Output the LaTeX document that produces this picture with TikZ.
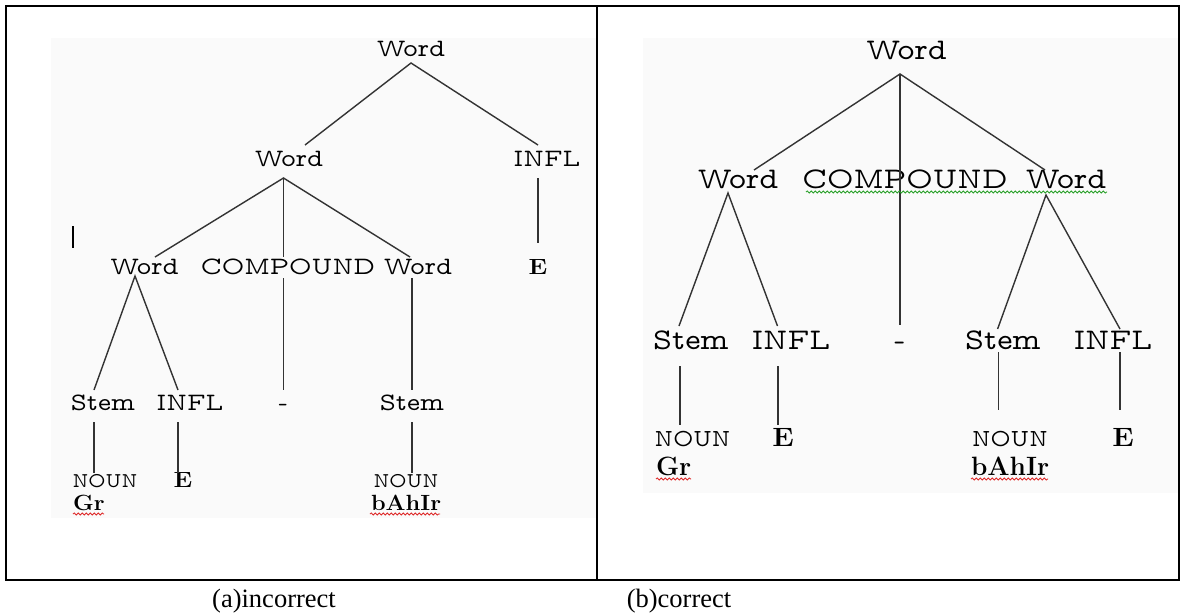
\documentclass[tikz,border=0pt]{standalone}
\usepackage{fontspec}
\setmainfont{Liberation Serif}
\usetikzlibrary{decorations.pathmorphing}

\definecolor{panelbg}{RGB}{250,250,250}
\definecolor{spellred}{RGB}{222,40,40}
\definecolor{grammargreen}{RGB}{40,160,40}

\tikzset{
  treelbl/.style={anchor=base, inner sep=0pt, outer sep=0pt, text=black, transform shape},
  tl/.style={treelbl, xscale=1.1, font=\fontfamily{lmvtt}\fontsize{25}{26}\selectfont},
  tr/.style={treelbl, xscale=1.08, font=\fontfamily{lmvtt}\fontsize{30}{31}\selectfont},
  lsm/.style={treelbl, font=\fontfamily{lmvtt}\fontsize{21}{22}\selectfont},
  rsm/.style={treelbl, font=\fontfamily{lmvtt}\fontsize{24.5}{26}\selectfont},
  lbold/.style={treelbl, xscale=1.15, font=\fontfamily{lmr}\fontseries{bx}\fontsize{22}{23}\selectfont},
  rbold/.style={treelbl, xscale=1.1, font=\fontfamily{lmr}\fontseries{bx}\fontsize{26.5}{28}\selectfont},
  lword/.style={lbold, xscale=0.93, anchor=base west},
  rword/.style={rbold, xscale=0.9, anchor=base west},
  branch/.style={draw=black!80, line width=1.4pt},
  frame/.style={draw=black, line width=1.5pt},
  captxt/.style={anchor=base, inner sep=0pt, font=\fontsize{26.5}{28}\selectfont},
  squiggle/.style={line width=0.8pt, decorate,
    decoration={snake, amplitude=1.1pt, segment length=4pt}},
}

\begin{document}
\begin{tikzpicture}[x=1pt,y=-1pt]
\useasboundingbox (0,0) rectangle (1184,613);
\fill[white] (0,0) rectangle (1184,613);

% light backgrounds of the two tree panels
\fill[panelbg] (51,38) rectangle (596,518);
\fill[panelbg] (643,38) rectangle (1178,493);

% table rules
\draw[frame] (6,6) rectangle (1179,580);
\draw[frame] (597,6) -- (597,580);

% ---------------- (a) incorrect ----------------
\node[tl] (a-root)  at (411,56)    {Word};
\node[tl] (a-w)     at (289,166)   {Word};
\node[tl] (a-infl)  at (547,166)   {INFL};
\node[tl] (a-w1)    at (144.5,274) {Word};
\node[tl] (a-cmp)   at (288,274)   {COMPOUND};
\node[tl] (a-w2)    at (418,274)   {Word};
\node[lbold] (a-e)  at (538,274)   {E};
\node[tl] (a-stem1) at (103,410)   {Stem};
\node[tl] (a-infl1) at (190,410)   {INFL};
\node[tl] (a-dash)  at (283.5,410) {-};
\node[tl] (a-stem2) at (412,410)   {Stem};
\node[lsm] (a-noun1) at (105,487.5) {NOUN};
\node[lbold] (a-e1)  at (183,487)   {E};
\node[lsm] (a-noun2) at (406,487.5) {NOUN};
\node[lword] (a-gr)    at (73,510)  {Gr};
\node[lword] (a-bahir) at (371,510) {bAhIr};

\coordinate (a-root-j)  at (411,63);
\coordinate (a-w-t)     at (305,145);
\coordinate (a-infl-t)  at (538,145);
\coordinate (a-infl-b)  at (538,178);
\coordinate (a-e-t)     at (538,243);
\coordinate (a-w-j)     at (283.5,178);
\coordinate (a-w1-t)    at (155,257);
\coordinate (a-cmp-t)   at (283.5,257);
\coordinate (a-w2-t)    at (410,257);
\coordinate (a-cmp-b)   at (283.5,278);
\coordinate (a-dash-t)  at (283.5,390);
\coordinate (a-w2-b)    at (412,278);
\coordinate (a-stem2-t) at (412,390);
\coordinate (a-w1-j)    at (135,276);
\coordinate (a-stem1-t) at (94,390);
\coordinate (a-infl1-t) at (178,390);
\coordinate (a-stem1-b) at (94,422);
\coordinate (a-noun1-t) at (94,473);
\coordinate (a-infl1-b) at (178,422);
\coordinate (a-e1-t)    at (178,473);
\coordinate (a-stem2-b) at (412,422);
\coordinate (a-noun2-t) at (412,473);

\draw[branch] (a-w-t) -- (a-root-j) -- (a-infl-t);
\draw[branch] (a-infl-b) -- (a-e-t);
\draw[branch] (a-w1-t) -- (a-w-j) -- (a-w2-t);
\draw[branch] (a-w-j) -- (a-cmp-t);
\draw[branch] (a-cmp-b) -- (a-dash-t);
\draw[branch] (a-w2-b) -- (a-stem2-t);
\draw[branch] (a-stem1-t) -- (a-w1-j) -- (a-infl1-t);
\draw[branch] (a-stem1-b) -- (a-noun1-t);
\draw[branch] (a-infl1-b) -- (a-e1-t);
\draw[branch] (a-stem2-b) -- (a-noun2-t);

% stray cursor bar
\coordinate (a-bar-t) at (73,226);
\coordinate (a-bar-b) at (73,248);
\draw[black, line width=2.4pt] (a-bar-t) -- (a-bar-b);

% spelling marks
\draw[squiggle, spellred] (73,514) -- (104,514);
\draw[squiggle, spellred] (370,514) -- (440,514);

% ---------------- (b) correct ----------------
\node[tr] (b-root)  at (906.5,59) {Word};
\node[tr] (b-w1)    at (738,188)  {Word};
\node[tr] (b-cmp)   at (905,188)  {COMPOUND};
\node[tr] (b-w2)    at (1066,188) {Word};
\node[tr] (b-stem1) at (691,349)  {Stem};
\node[tr] (b-infl1) at (791,349)  {INFL};
\node[tr] (b-dash)  at (900,349)  {-};
\node[tr] (b-stem2) at (1003,349) {Stem};
\node[tr] (b-infl2) at (1113,349) {INFL};
\node[rsm] (b-noun1) at (692.6,446) {NOUN};
\node[rbold] (b-e1)  at (783,446)   {E};
\node[rsm] (b-noun2) at (1010,446)  {NOUN};
\node[rbold] (b-e2)  at (1123,446)  {E};
\node[rword] (b-gr)    at (656,475) {Gr};
\node[rword] (b-bahir) at (971,475) {bAhIr};

\coordinate (b-root-j)  at (900,74);
\coordinate (b-w1-t)    at (754,170);
\coordinate (b-w2-t)    at (1045,170);
\coordinate (b-dash-t)  at (900,325);
\coordinate (b-w1-j)    at (728,193);
\coordinate (b-stem1-t) at (679,326);
\coordinate (b-infl1-t) at (777.5,326);
\coordinate (b-w2-j)    at (1046,195);
\coordinate (b-stem2-t) at (997.6,329);
\coordinate (b-infl2-t) at (1120,329);
\coordinate (b-stem1-b) at (680,366);
\coordinate (b-noun1-t) at (680,425);
\coordinate (b-infl1-b) at (778,366);
\coordinate (b-e1-t)    at (778,425);
\coordinate (b-stem2-b) at (998.7,352);
\coordinate (b-noun2-t) at (998.7,410);
\coordinate (b-infl2-b) at (1120,352);
\coordinate (b-e2-t)    at (1120,410);

\draw[branch] (b-w1-t) -- (b-root-j) -- (b-w2-t);
\draw[branch] (b-root-j) -- (b-dash-t);
\draw[branch] (b-stem1-t) -- (b-w1-j) -- (b-infl1-t);
\draw[branch] (b-stem2-t) -- (b-w2-j) -- (b-infl2-t);
\draw[branch] (b-stem1-b) -- (b-noun1-t);
\draw[branch] (b-infl1-b) -- (b-e1-t);
\draw[branch] (b-stem2-b) -- (b-noun2-t);
\draw[branch] (b-infl2-b) -- (b-e2-t);

% grammar and spelling marks
\draw[squiggle, grammargreen] (806,192) -- (1107,192);
\draw[squiggle, spellred] (656,479) -- (691,479);
\draw[squiggle, spellred] (971,479) -- (1048,479);

% captions
\node[captxt] (cap-a) at (274,607) {(a)incorrect};
\node[captxt] (cap-b) at (679,607) {(b)correct};
\end{tikzpicture}
\end{document}
